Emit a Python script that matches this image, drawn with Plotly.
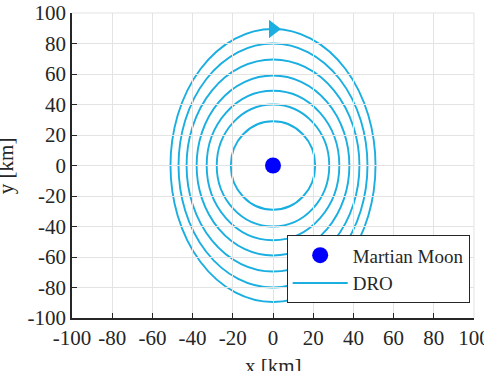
import plotly.graph_objects as go

# DRO orbit semi-axes (km)
dro_semi_x = [21, 28, 33, 38, 43, 47, 51]
dro_semi_y = [29, 40, 49, 59, 69.5, 80, 89.5]

moon_x = [0]
moon_y = [0]

arrow_x = [0]
arrow_y = [89.5]

tick_vals = [-100, -80, -60, -40, -20, 0, 20, 40, 60, 80, 100]
tick_text = ["-100", "-80", "-60", "-40", "-20", "0", "20", "40", "60", "80", "100"]

x_title = "x [km]"
y_title = "y [km]"

line_color = "#1AAFE0"
font_family = "Liberation Serif, Times New Roman, serif"
text_color = "#262626"

fig = go.Figure()

fig.add_trace(go.Scatter(
    x=moon_x, y=moon_y, mode="markers", name="Martian Moon",
    marker=dict(color="#0000FF", size=16, line=dict(width=0)),
))
fig.add_trace(go.Scatter(
    x=[None], y=[None], mode="lines", name="DRO",
    line=dict(color=line_color, width=2),
))
fig.add_trace(go.Scatter(
    x=arrow_x, y=arrow_y, mode="markers", showlegend=False,
    marker=dict(symbol="triangle-right", color=line_color, size=16, line=dict(width=0)),
))

for a, b in zip(dro_semi_x, dro_semi_y):
    fig.add_shape(type="circle", xref="x", yref="y", x0=-a, x1=a, y0=-b, y1=b,
                  line=dict(color=line_color, width=1.9), layer="below")

# grid lines at the top and right edges of the plot area
fig.add_shape(type="line", xref="paper", yref="paper", x0=0, x1=1, y0=1, y1=1,
              line=dict(color="#E3E3E3", width=1), layer="below")
fig.add_shape(type="line", xref="paper", yref="paper", x0=1, x1=1, y0=0, y1=1,
              line=dict(color="#E3E3E3", width=1), layer="below")

axis_common = dict(
    tickvals=tick_vals, ticktext=tick_text, range=[-100, 100],
    showgrid=True, gridcolor="#E3E3E3", gridwidth=1, zeroline=False,
    showline=True, linecolor=text_color, linewidth=1.5,
    ticks="inside", ticklen=5, tickcolor=text_color, tickwidth=1,
    tickfont=dict(family=font_family, size=21, color=text_color),
    ticklabeloverflow="allow",
    automargin=False,
)

fig.update_xaxes(**axis_common)
fig.update_yaxes(**axis_common)

# axis titles as annotations (partly cut by the figure edges, as in the reference)
fig.add_annotation(text=x_title, xref="paper", yref="paper", x=0.5, y=-0.112,
                   xanchor="center", yanchor="top", showarrow=False,
                   font=dict(family=font_family, size=21, color=text_color))
fig.add_annotation(text=y_title, xref="paper", yref="paper", x=-0.165, y=0.5,
                   xanchor="center", yanchor="middle", textangle=-90, showarrow=False,
                   font=dict(family=font_family, size=21, color=text_color))

fig.update_layout(
    width=484, height=371,
    margin=dict(l=72, r=10, t=13, b=53),
    paper_bgcolor="white", plot_bgcolor="white",
    font=dict(family=font_family, size=20, color=text_color),
    legend=dict(
        x=0.534, y=0.271, xanchor="left", yanchor="top",
        bgcolor="white", bordercolor=text_color, borderwidth=1,
        font=dict(family=font_family, size=19, color=text_color),
        itemwidth=55, tracegroupgap=0,
    ),
)

fig.write_html("out.html")
